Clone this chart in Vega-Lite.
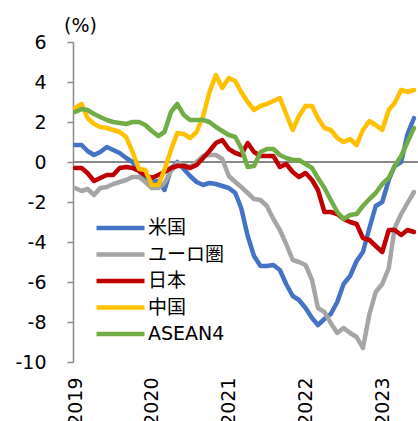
{
"$schema":"https://vega.github.io/schema/vega-lite/v6.json",
"width":345,"height":320,
"autosize":{"type":"none"},
"padding":{"left":73,"top":42,"right":0,"bottom":59},
"background":"white",
"config":{"view":{"stroke":null},"font":"DejaVu Sans, Noto Sans CJK JP","axis":{"labelOverlap":false},"axisY":{"labelOverlap":false}},
"data":{"values":[
{"d":"2019-01-01","s":"米国","v":0.85},{"d":"2019-02-01","s":"米国","v":0.85},{"d":"2019-03-01","s":"米国","v":0.55},{"d":"2019-04-01","s":"米国","v":0.35},{"d":"2019-05-01","s":"米国","v":0.5},{"d":"2019-06-01","s":"米国","v":0.75},{"d":"2019-07-01","s":"米国","v":0.6},{"d":"2019-08-01","s":"米国","v":0.45},{"d":"2019-09-01","s":"米国","v":0.2},{"d":"2019-10-01","s":"米国","v":0.0},{"d":"2019-11-01","s":"米国","v":-0.45},{"d":"2019-12-01","s":"米国","v":-0.75},
{"d":"2020-01-01","s":"米国","v":-1.0},{"d":"2020-02-01","s":"米国","v":-0.95},{"d":"2020-03-01","s":"米国","v":-1.4},{"d":"2020-04-01","s":"米国","v":-0.35},{"d":"2020-05-01","s":"米国","v":0.0},{"d":"2020-06-01","s":"米国","v":-0.35},{"d":"2020-07-01","s":"米国","v":-0.7},{"d":"2020-08-01","s":"米国","v":-1.0},{"d":"2020-09-01","s":"米国","v":-1.15},{"d":"2020-10-01","s":"米国","v":-1.05},{"d":"2020-11-01","s":"米国","v":-1.1},{"d":"2020-12-01","s":"米国","v":-1.2},
{"d":"2021-01-01","s":"米国","v":-1.3},{"d":"2021-02-01","s":"米国","v":-1.55},{"d":"2021-03-01","s":"米国","v":-2.3},{"d":"2021-04-01","s":"米国","v":-3.7},{"d":"2021-05-01","s":"米国","v":-4.7},{"d":"2021-06-01","s":"米国","v":-5.2},{"d":"2021-07-01","s":"米国","v":-5.2},{"d":"2021-08-01","s":"米国","v":-5.15},{"d":"2021-09-01","s":"米国","v":-5.4},{"d":"2021-10-01","s":"米国","v":-6.1},{"d":"2021-11-01","s":"米国","v":-6.7},{"d":"2021-12-01","s":"米国","v":-6.9},
{"d":"2022-01-01","s":"米国","v":-7.3},{"d":"2022-02-01","s":"米国","v":-7.8},{"d":"2022-03-01","s":"米国","v":-8.15},{"d":"2022-04-01","s":"米国","v":-7.85},{"d":"2022-05-01","s":"米国","v":-7.6},{"d":"2022-06-01","s":"米国","v":-7.0},{"d":"2022-07-01","s":"米国","v":-6.1},{"d":"2022-08-01","s":"米国","v":-5.7},{"d":"2022-09-01","s":"米国","v":-4.95},{"d":"2022-10-01","s":"米国","v":-4.5},{"d":"2022-11-01","s":"米国","v":-3.3},{"d":"2022-12-01","s":"米国","v":-2.2},
{"d":"2023-01-01","s":"米国","v":-2.0},{"d":"2023-02-01","s":"米国","v":-0.9},{"d":"2023-03-01","s":"米国","v":-0.2},{"d":"2023-04-01","s":"米国","v":0.0},{"d":"2023-05-01","s":"米国","v":1.4},{"d":"2023-06-01","s":"米国","v":2.2},
{"d":"2019-01-01","s":"ユーロ圏","v":-1.3},{"d":"2019-02-01","s":"ユーロ圏","v":-1.45},{"d":"2019-03-01","s":"ユーロ圏","v":-1.35},{"d":"2019-04-01","s":"ユーロ圏","v":-1.65},{"d":"2019-05-01","s":"ユーロ圏","v":-1.3},{"d":"2019-06-01","s":"ユーロ圏","v":-1.25},{"d":"2019-07-01","s":"ユーロ圏","v":-1.1},{"d":"2019-08-01","s":"ユーロ圏","v":-1.0},{"d":"2019-09-01","s":"ユーロ圏","v":-0.9},{"d":"2019-10-01","s":"ユーロ圏","v":-0.75},{"d":"2019-11-01","s":"ユーロ圏","v":-0.75},{"d":"2019-12-01","s":"ユーロ圏","v":-1.0},
{"d":"2020-01-01","s":"ユーロ圏","v":-1.3},{"d":"2020-02-01","s":"ユーロ圏","v":-1.3},{"d":"2020-03-01","s":"ユーロ圏","v":-1.05},{"d":"2020-04-01","s":"ユーロ圏","v":-0.45},{"d":"2020-05-01","s":"ユーロ圏","v":-0.05},{"d":"2020-06-01","s":"ユーロ圏","v":-0.15},{"d":"2020-07-01","s":"ユーロ圏","v":-0.25},{"d":"2020-08-01","s":"ユーロ圏","v":0.0},{"d":"2020-09-01","s":"ユーロ圏","v":0.3},{"d":"2020-10-01","s":"ユーロ圏","v":0.35},{"d":"2020-11-01","s":"ユーロ圏","v":0.35},{"d":"2020-12-01","s":"ユーロ圏","v":0.15},
{"d":"2021-01-01","s":"ユーロ圏","v":-0.7},{"d":"2021-02-01","s":"ユーロ圏","v":-1.0},{"d":"2021-03-01","s":"ユーロ圏","v":-1.25},{"d":"2021-04-01","s":"ユーロ圏","v":-1.55},{"d":"2021-05-01","s":"ユーロ圏","v":-1.85},{"d":"2021-06-01","s":"ユーロ圏","v":-1.9},{"d":"2021-07-01","s":"ユーロ圏","v":-2.2},{"d":"2021-08-01","s":"ユーロ圏","v":-2.85},{"d":"2021-09-01","s":"ユーロ圏","v":-3.4},{"d":"2021-10-01","s":"ユーロ圏","v":-4.1},{"d":"2021-11-01","s":"ユーロ圏","v":-4.9},{"d":"2021-12-01","s":"ユーロ圏","v":-5.0},
{"d":"2022-01-01","s":"ユーロ圏","v":-5.15},{"d":"2022-02-01","s":"ユーロ圏","v":-5.9},{"d":"2022-03-01","s":"ユーロ圏","v":-7.3},{"d":"2022-04-01","s":"ユーロ圏","v":-7.5},{"d":"2022-05-01","s":"ユーロ圏","v":-8.05},{"d":"2022-06-01","s":"ユーロ圏","v":-8.55},{"d":"2022-07-01","s":"ユーロ圏","v":-8.3},{"d":"2022-08-01","s":"ユーロ圏","v":-8.55},{"d":"2022-09-01","s":"ユーロ圏","v":-8.75},{"d":"2022-10-01","s":"ユーロ圏","v":-9.3},{"d":"2022-11-01","s":"ユーロ圏","v":-7.6},{"d":"2022-12-01","s":"ユーロ圏","v":-6.5},
{"d":"2023-01-01","s":"ユーロ圏","v":-6.1},{"d":"2023-02-01","s":"ユーロ圏","v":-5.3},{"d":"2023-03-01","s":"ユーロ圏","v":-3.3},{"d":"2023-04-01","s":"ユーロ圏","v":-2.6},{"d":"2023-05-01","s":"ユーロ圏","v":-2.05},{"d":"2023-06-01","s":"ユーロ圏","v":-1.5},
{"d":"2019-01-01","s":"日本","v":-0.3},{"d":"2019-02-01","s":"日本","v":-0.3},{"d":"2019-03-01","s":"日本","v":-0.55},{"d":"2019-04-01","s":"日本","v":-0.95},{"d":"2019-05-01","s":"日本","v":-0.8},{"d":"2019-06-01","s":"日本","v":-0.65},{"d":"2019-07-01","s":"日本","v":-0.65},{"d":"2019-08-01","s":"日本","v":-0.3},{"d":"2019-09-01","s":"日本","v":-0.25},{"d":"2019-10-01","s":"日本","v":-0.3},{"d":"2019-11-01","s":"日本","v":-0.45},{"d":"2019-12-01","s":"日本","v":-0.65},
{"d":"2020-01-01","s":"日本","v":-0.8},{"d":"2020-02-01","s":"日本","v":-0.65},{"d":"2020-03-01","s":"日本","v":-0.5},{"d":"2020-04-01","s":"日本","v":-0.3},{"d":"2020-05-01","s":"日本","v":-0.2},{"d":"2020-06-01","s":"日本","v":-0.2},{"d":"2020-07-01","s":"日本","v":-0.3},{"d":"2020-08-01","s":"日本","v":-0.15},{"d":"2020-09-01","s":"日本","v":0.2},{"d":"2020-10-01","s":"日本","v":0.55},{"d":"2020-11-01","s":"日本","v":0.95},{"d":"2020-12-01","s":"日本","v":1.1},
{"d":"2021-01-01","s":"日本","v":0.65},{"d":"2021-02-01","s":"日本","v":0.45},{"d":"2021-03-01","s":"日本","v":0.35},{"d":"2021-04-01","s":"日本","v":0.95},{"d":"2021-05-01","s":"日本","v":0.5},{"d":"2021-06-01","s":"日本","v":0.3},{"d":"2021-07-01","s":"日本","v":0.3},{"d":"2021-08-01","s":"日本","v":0.3},{"d":"2021-09-01","s":"日本","v":-0.25},{"d":"2021-10-01","s":"日本","v":-0.1},{"d":"2021-11-01","s":"日本","v":-0.5},{"d":"2021-12-01","s":"日本","v":-0.75},
{"d":"2022-01-01","s":"日本","v":-0.55},{"d":"2022-02-01","s":"日本","v":-0.9},{"d":"2022-03-01","s":"日本","v":-1.4},{"d":"2022-04-01","s":"日本","v":-2.5},{"d":"2022-05-01","s":"日本","v":-2.5},{"d":"2022-06-01","s":"日本","v":-2.6},{"d":"2022-07-01","s":"日本","v":-2.85},{"d":"2022-08-01","s":"日本","v":-3.0},{"d":"2022-09-01","s":"日本","v":-3.1},{"d":"2022-10-01","s":"日本","v":-3.8},{"d":"2022-11-01","s":"日本","v":-3.9},{"d":"2022-12-01","s":"日本","v":-4.2},
{"d":"2023-01-01","s":"日本","v":-4.5},{"d":"2023-02-01","s":"日本","v":-3.4},{"d":"2023-03-01","s":"日本","v":-3.4},{"d":"2023-04-01","s":"日本","v":-3.65},{"d":"2023-05-01","s":"日本","v":-3.4},{"d":"2023-06-01","s":"日本","v":-3.5},
{"d":"2019-01-01","s":"中国","v":2.7},{"d":"2019-02-01","s":"中国","v":2.9},{"d":"2019-03-01","s":"中国","v":2.2},{"d":"2019-04-01","s":"中国","v":1.9},{"d":"2019-05-01","s":"中国","v":1.75},{"d":"2019-06-01","s":"中国","v":1.7},{"d":"2019-07-01","s":"中国","v":1.6},{"d":"2019-08-01","s":"中国","v":1.5},{"d":"2019-09-01","s":"中国","v":1.25},{"d":"2019-10-01","s":"中国","v":0.5},{"d":"2019-11-01","s":"中国","v":-0.35},{"d":"2019-12-01","s":"中国","v":-0.4},
{"d":"2020-01-01","s":"中国","v":-1.15},{"d":"2020-02-01","s":"中国","v":-1.15},{"d":"2020-03-01","s":"中国","v":-0.4},{"d":"2020-04-01","s":"中国","v":0.6},{"d":"2020-05-01","s":"中国","v":1.45},{"d":"2020-06-01","s":"中国","v":1.4},{"d":"2020-07-01","s":"中国","v":1.2},{"d":"2020-08-01","s":"中国","v":1.5},{"d":"2020-09-01","s":"中国","v":2.3},{"d":"2020-10-01","s":"中国","v":3.5},{"d":"2020-11-01","s":"中国","v":4.35},{"d":"2020-12-01","s":"中国","v":3.7},
{"d":"2021-01-01","s":"中国","v":4.2},{"d":"2021-02-01","s":"中国","v":4.05},{"d":"2021-03-01","s":"中国","v":3.5},{"d":"2021-04-01","s":"中国","v":3.0},{"d":"2021-05-01","s":"中国","v":2.6},{"d":"2021-06-01","s":"中国","v":2.8},{"d":"2021-07-01","s":"中国","v":2.9},{"d":"2021-08-01","s":"中国","v":3.05},{"d":"2021-09-01","s":"中国","v":3.2},{"d":"2021-10-01","s":"中国","v":2.4},{"d":"2021-11-01","s":"中国","v":1.6},{"d":"2021-12-01","s":"中国","v":2.3},
{"d":"2022-01-01","s":"中国","v":2.8},{"d":"2022-02-01","s":"中国","v":2.8},{"d":"2022-03-01","s":"中国","v":2.2},{"d":"2022-04-01","s":"中国","v":1.7},{"d":"2022-05-01","s":"中国","v":1.6},{"d":"2022-06-01","s":"中国","v":1.2},{"d":"2022-07-01","s":"中国","v":1.0},{"d":"2022-08-01","s":"中国","v":1.15},{"d":"2022-09-01","s":"中国","v":0.85},{"d":"2022-10-01","s":"中国","v":1.6},{"d":"2022-11-01","s":"中国","v":2.05},{"d":"2022-12-01","s":"中国","v":1.85},
{"d":"2023-01-01","s":"中国","v":1.6},{"d":"2023-02-01","s":"中国","v":2.6},{"d":"2023-03-01","s":"中国","v":2.95},{"d":"2023-04-01","s":"中国","v":3.6},{"d":"2023-05-01","s":"中国","v":3.5},{"d":"2023-06-01","s":"中国","v":3.6},
{"d":"2019-01-01","s":"ASEAN4","v":2.5},{"d":"2019-02-01","s":"ASEAN4","v":2.65},{"d":"2019-03-01","s":"ASEAN4","v":2.6},{"d":"2019-04-01","s":"ASEAN4","v":2.4},{"d":"2019-05-01","s":"ASEAN4","v":2.25},{"d":"2019-06-01","s":"ASEAN4","v":2.1},{"d":"2019-07-01","s":"ASEAN4","v":2.0},{"d":"2019-08-01","s":"ASEAN4","v":1.95},{"d":"2019-09-01","s":"ASEAN4","v":1.9},{"d":"2019-10-01","s":"ASEAN4","v":2.0},{"d":"2019-11-01","s":"ASEAN4","v":2.0},{"d":"2019-12-01","s":"ASEAN4","v":1.85},
{"d":"2020-01-01","s":"ASEAN4","v":1.55},{"d":"2020-02-01","s":"ASEAN4","v":1.3},{"d":"2020-03-01","s":"ASEAN4","v":1.5},{"d":"2020-04-01","s":"ASEAN4","v":2.5},{"d":"2020-05-01","s":"ASEAN4","v":2.9},{"d":"2020-06-01","s":"ASEAN4","v":2.35},{"d":"2020-07-01","s":"ASEAN4","v":2.1},{"d":"2020-08-01","s":"ASEAN4","v":2.1},{"d":"2020-09-01","s":"ASEAN4","v":2.1},{"d":"2020-10-01","s":"ASEAN4","v":2.0},{"d":"2020-11-01","s":"ASEAN4","v":1.75},{"d":"2020-12-01","s":"ASEAN4","v":1.55},
{"d":"2021-01-01","s":"ASEAN4","v":1.35},{"d":"2021-02-01","s":"ASEAN4","v":1.25},{"d":"2021-03-01","s":"ASEAN4","v":0.7},{"d":"2021-04-01","s":"ASEAN4","v":-0.25},{"d":"2021-05-01","s":"ASEAN4","v":-0.2},{"d":"2021-06-01","s":"ASEAN4","v":0.5},{"d":"2021-07-01","s":"ASEAN4","v":0.65},{"d":"2021-08-01","s":"ASEAN4","v":0.65},{"d":"2021-09-01","s":"ASEAN4","v":0.35},{"d":"2021-10-01","s":"ASEAN4","v":0.2},{"d":"2021-11-01","s":"ASEAN4","v":0.1},{"d":"2021-12-01","s":"ASEAN4","v":0.1},
{"d":"2022-01-01","s":"ASEAN4","v":-0.1},{"d":"2022-02-01","s":"ASEAN4","v":-0.3},{"d":"2022-03-01","s":"ASEAN4","v":-0.8},{"d":"2022-04-01","s":"ASEAN4","v":-1.3},{"d":"2022-05-01","s":"ASEAN4","v":-1.9},{"d":"2022-06-01","s":"ASEAN4","v":-2.5},{"d":"2022-07-01","s":"ASEAN4","v":-2.85},{"d":"2022-08-01","s":"ASEAN4","v":-2.65},{"d":"2022-09-01","s":"ASEAN4","v":-2.6},{"d":"2022-10-01","s":"ASEAN4","v":-2.2},{"d":"2022-11-01","s":"ASEAN4","v":-1.85},{"d":"2022-12-01","s":"ASEAN4","v":-1.55},
{"d":"2023-01-01","s":"ASEAN4","v":-1.1},{"d":"2023-02-01","s":"ASEAN4","v":-0.8},{"d":"2023-03-01","s":"ASEAN4","v":-0.2},{"d":"2023-04-01","s":"ASEAN4","v":0.3},{"d":"2023-05-01","s":"ASEAN4","v":1.0},{"d":"2023-06-01","s":"ASEAN4","v":1.7}
]},
"layer":[
{"mark":{"type":"rule","color":"#898989","strokeWidth":1.5},"encoding":{"y":{"datum":0,"type":"quantitative"}}},
{"mark":{"type":"line","strokeWidth":4.5,"strokeJoin":"round","strokeCap":"round"},
 "encoding":{
  "x":{"field":"d","type":"temporal",
   "scale":{"type":"utc","domain":[{"year":2018,"month":12,"date":22,"utc":true},{"year":2023,"month":6,"date":20,"utc":true}]},
   "axis":{"title":null,"values":[{"year":2019,"month":1,"date":1,"utc":true},{"year":2020,"month":1,"date":1,"utc":true},{"year":2021,"month":1,"date":1,"utc":true},{"year":2022,"month":1,"date":1,"utc":true},{"year":2023,"month":1,"date":1,"utc":true}],"tickCount":20,
     "format":"%Y","formatType":"utc","labelAngle":-90,"labelFontSize":19,"labelPadding":15,"labelColor":"#000","labelOverlap":false,"labelFlush":false,"labelBound":false,"domain":false,"ticks":false,"grid":false}},
  "y":{"field":"v","type":"quantitative",
   "scale":{"domain":[-10,6],"nice":false,"zero":false},
   "axis":{"values":[-10,-8,-6,-4,-2,0,2,4,6],"tickCount":20,"labelExpr":"'' + datum.value","title":"(%)","titleAngle":0,"titleX":7,"titleY":-17,"titleAlign":"center","titleBaseline":"middle","titleFontSize":19,"titleFontWeight":"normal","titleColor":"#000","labelFontSize":19,"labelPadding":21,"labelColor":"#000","tickSize":6,"domainColor":"#898989","tickColor":"#898989","domainWidth":1.5,"tickWidth":1.5,"grid":false,"labelFlush":false,"labelOverlap":false}},
  "color":{"field":"s","type":"nominal",
   "scale":{"domain":["米国","ユーロ圏","日本","中国","ASEAN4"],"range":["#4472C4","#A5A5A5","#C00000","#FFC000","#70AD47"]},
   "legend":{"title":null,"orient":"none","legendX":21,"legendY":173,"symbolType":"stroke","symbolSize":2304,"symbolStrokeWidth":4.5,"labelFontSize":19,"labelColor":"#000","clipHeight":26,"rowPadding":0.5,"labelOffset":1}}
 }}
]
}
